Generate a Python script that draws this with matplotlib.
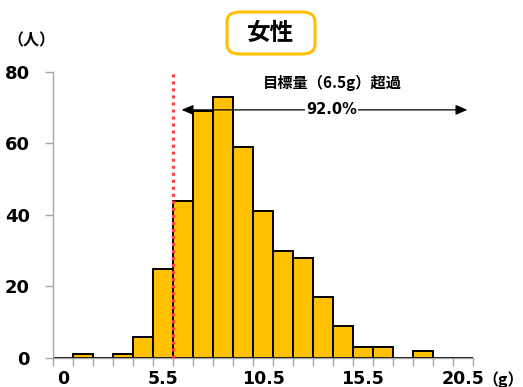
import matplotlib
matplotlib.use("Agg")
import matplotlib.pyplot as plt
from matplotlib.patches import FancyBboxPatch

plt.rcParams['font.family'] = ['DejaVu Sans', 'Noto Sans CJK JP']

# Salt intake distribution (g/day), 21 one-gram classes
counts = [0, 1, 0, 1, 6, 25, 44, 69, 73, 59, 41, 30, 28, 17, 9, 3, 3, 0, 2, 0, 0]
tick_labels = ["0", "5.5", "10.5", "15.5", "20.5"]
tick_bins = [0, 5, 10, 15, 20]
title = "女性"
target_label = "目標量（6.5g）超過"
share_label = "92.0%"
target_pos = 5.5      # class boundary of the target amount
arrow_level = 69.4
arrow_span = (5.92, 20.23)

bar_color = "#FFC000"
axis_grey = "#A6A6A6"
cjk = ['Noto Sans CJK JP', 'DejaVu Sans']

fig = plt.figure(figsize=(5.23, 3.87), dpi=100)
ax = fig.add_axes([0.102, 0.075, 0.802, 0.739])

x = list(range(len(counts)))
ax.bar(x, counts, width=1.0, color=bar_color, edgecolor="black", linewidth=1.4, zorder=2)

ax.set_xlim(-0.5, len(counts) - 0.5)
ax.set_ylim(0, 80)

# class boundaries as tick marks, labels every five classes
ax.set_xticks([i - 0.5 for i in range(len(counts) + 1)])
ax.set_xticklabels([])
ax.set_xticks(tick_bins, minor=True)
ax.set_xticklabels(tick_labels, minor=True, fontsize=12.5, fontweight="bold")
ax.tick_params(axis="x", which="major", direction="out", length=6, color=axis_grey, width=1)
ax.tick_params(axis="x", which="minor", length=0, pad=9)

ax.set_yticks([0, 20, 40, 60, 80])
ax.set_yticklabels(["0", "20", "40", "60", "80"], fontsize=13, fontweight="bold")
ax.tick_params(axis="y", direction="out", length=6, color=axis_grey, width=1, pad=11)

for side in ("top", "right"):
    ax.spines[side].set_visible(False)
for side in ("left", "bottom"):
    ax.spines[side].set_color(axis_grey)
    ax.spines[side].set_linewidth(1)

# target line
ax.plot([target_pos, target_pos], [0, 80], color="#FF4040", linestyle=(0, (1.0, 1.3)),
        linewidth=2.2, zorder=3, clip_on=False)

# share-above-target arrow
ax.annotate("", xy=(arrow_span[0], arrow_level), xytext=(arrow_span[1], arrow_level),
            arrowprops=dict(arrowstyle="<|-|>,head_length=0.7,head_width=0.3",
                            color="black", linewidth=0.9, shrinkA=0, shrinkB=0),
            zorder=4)
ax.text(13.43, arrow_level, share_label, ha="center", va="center", fontsize=10.5,
        fontweight="bold", zorder=5,
        bbox=dict(boxstyle="square,pad=0.1", facecolor="white", edgecolor="none"))
ax.text(13.45, 76.9, target_label, ha="center", va="center", fontsize=11,
        fontweight="bold", zorder=5, family=cjk)

# unit labels
fig.text(31 / 523, 1 - 40 / 387, "（人）", ha="center", va="center", fontsize=11.5,
         fontweight="bold", family=cjk)
fig.text(503 / 523, 1 - 380 / 387, "（g）", ha="center", va="center", fontsize=11.5,
         fontweight="bold", family=cjk)

# title in rounded box
box_w, box_h = 88 / 523, 42 / 387
bx, by = 271 / 523 - box_w / 2, 1 - 33 / 387 - box_h / 2
fig.patches.append(FancyBboxPatch((bx, by), box_w, box_h,
                                  boxstyle="round,pad=0,rounding_size=0.025",
                                  transform=fig.transFigure, facecolor="white",
                                  edgecolor=bar_color, linewidth=2.2))
fig.text(271 / 523, 1 - 33 / 387, title, ha="center", va="center", fontsize=17,
         fontweight="bold", family=cjk)

fig.savefig("out.png", dpi=100)
